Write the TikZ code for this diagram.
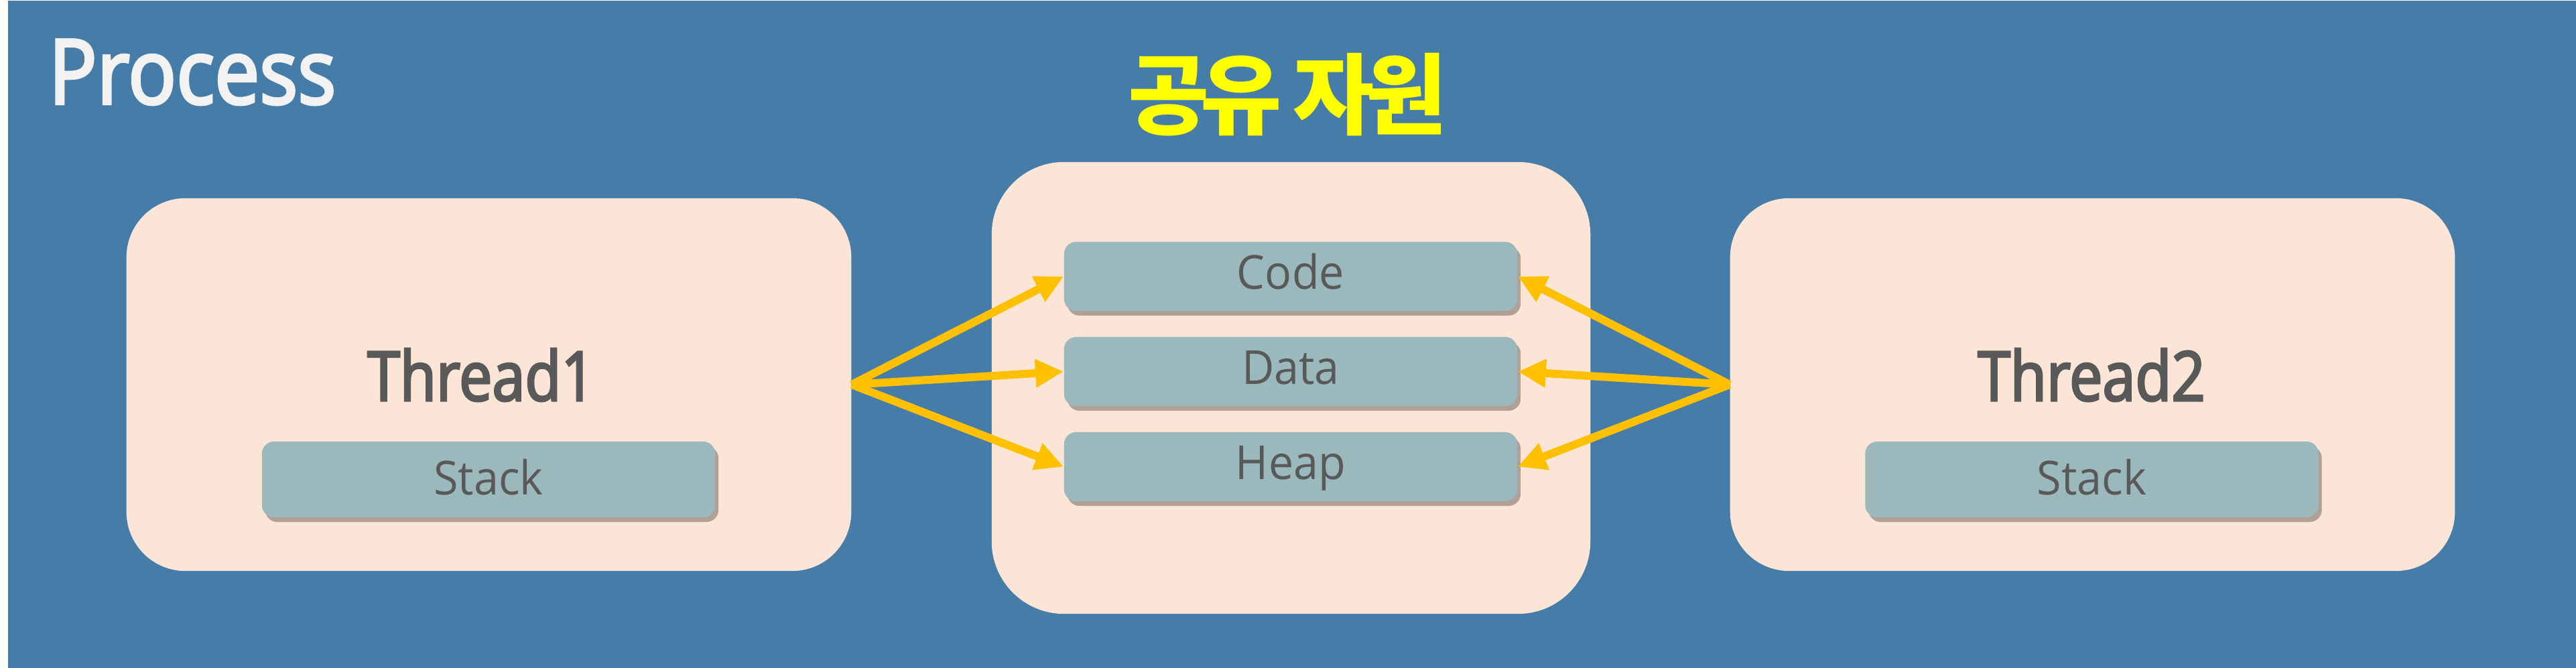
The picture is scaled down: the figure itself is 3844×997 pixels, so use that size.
\documentclass[tikz,border=0pt]{standalone}
\usepackage{fontspec}
\setmainfont{Open Sans}
\newfontfamily\procfont[FakeStretch=0.89,FakeBold=3]{Open Sans}
\newfontfamily\thrfont[FakeStretch=0.86,FakeBold=3]{Open Sans}
\newfontfamily\boxfont[FakeStretch=0.95]{Open Sans}
\newfontfamily\korfont[LetterSpace=-10]{Noto Sans CJK KR}
\usetikzlibrary{arrows.meta,shadows,calc}
\definecolor{bgblue}{HTML}{457CA8}
\definecolor{peach}{HTML}{FBE5D6}
\definecolor{boxc}{HTML}{9BB9BD}
\definecolor{txtgray}{HTML}{595959}
\definecolor{shadowc}{HTML}{9E8F87}
\definecolor{arrowc}{HTML}{FFC000}
\definecolor{procc}{HTML}{F2F2F2}
\definecolor{kory}{HTML}{FFFF00}
\tikzset{
  bigbox/.style={fill=peach, draw=none, inner sep=0pt, rounded corners=0.88cm,
    minimum width=10.81cm, minimum height=5.56cm},
  midbox/.style={fill=peach, draw=none, inner sep=0pt, rounded corners=1.08cm,
    minimum width=8.93cm, minimum height=6.74cm},
  segbox/.style={fill=boxc, draw=none, inner sep=0pt, rounded corners=0.18cm,
    minimum width=6.76cm, minimum height=1.03cm,
    drop shadow={shadow xshift=0.05cm, shadow yshift=-0.07cm, fill=shadowc, opacity=0.8},
    text=txtgray, font=\boxfont\fontsize{19.9pt}{22pt}\selectfont,
    text height=0.37cm, text depth=0cm},
  stackbox/.style={segbox, minimum height=1.13cm, text height=0.45cm},
  thrlabel/.style={anchor=base, inner sep=0pt, text=txtgray,
    font=\thrfont\fontsize{29.1pt}{31pt}\selectfont},
  arr/.style={draw=arrowc, line width=0.12cm, -{Triangle[length=0.42cm,width=0.4cm]}}
}
\begin{document}
\begin{tikzpicture}[x=0.01cm, y=-0.01cm]
\useasboundingbox (0,0) rectangle (3844,997);
\fill[white] (0,0) rectangle (3844,997);
\fill[bgblue] (12,1) rectangle (3844,997);

\node[anchor=base west, inner sep=0pt, text=procc,
  font=\procfont\fontsize{38.2pt}{40pt}\selectfont] (proc) at (72,155) {Process};
\node[anchor=base, inner sep=0pt, text=kory,
  font=\korfont\bfseries\fontsize{37.5pt}{40pt}\selectfont] (kor) at (1921,191) {공유 자원};

\node[bigbox] (T1) at (729.5,574) {};
\node[bigbox] (T2) at (3122.5,574) {};
\node[midbox] (M) at (1926.5,579) {};

\node[thrlabel] (T1l) at (718,598) {Thread1};
\node[thrlabel] (T2l) at (3121,598) {Thread2};

\node[stackbox] (S1) at (729,715.5) {Stack};
\node[stackbox] (S2) at (3121.5,715.5) {Stack};

\node[segbox] (Code) at (1926,412.5) {Code};
\node[segbox] (Data) at (1926,554.5) {Data};
\node[segbox] (Heap) at (1926,696.5) {Heap};

\draw[arr] (T1.east) -- (Code.west);
\draw[arr] (T1.east) -- (Data.west);
\draw[arr] (T1.east) -- (Heap.west);
\draw[arr] (T2.west) -- (Code.east);
\draw[arr] (T2.west) -- (Data.east);
\draw[arr] (T2.west) -- (Heap.east);
\end{tikzpicture}
\end{document}
